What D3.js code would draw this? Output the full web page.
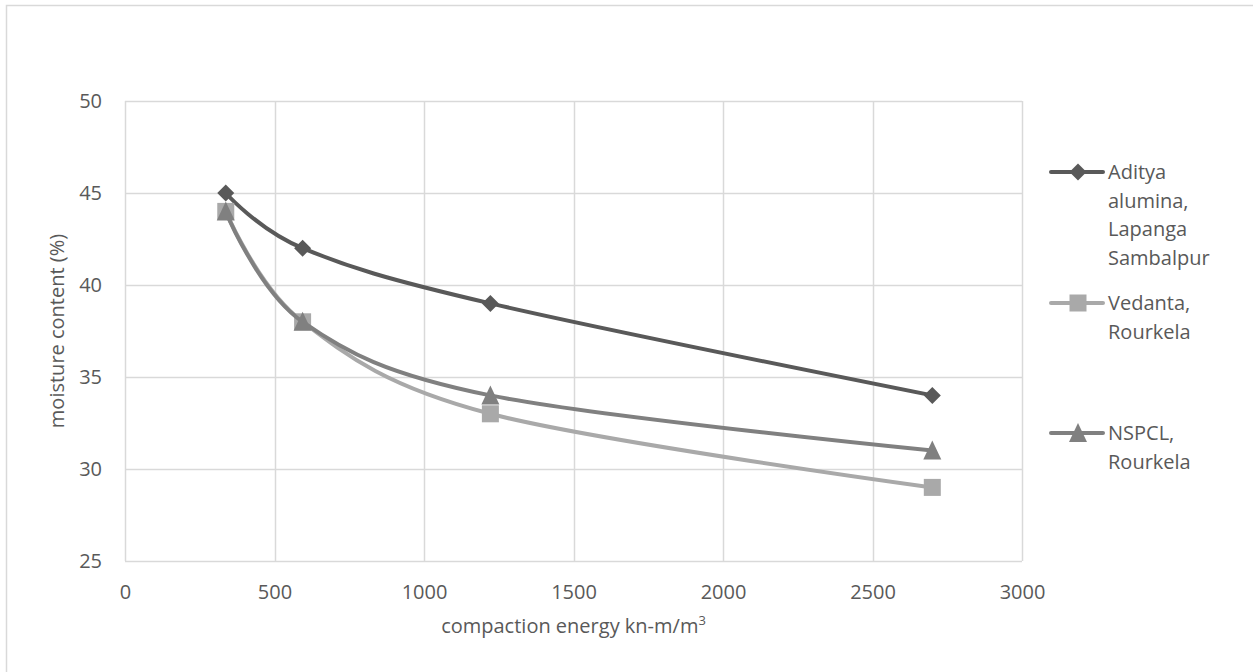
<!DOCTYPE html>
<html>
<head>
<meta charset="utf-8">
<script src="https://cdn.jsdelivr.net/npm/d3@7"></script>
<style>
  html, body { margin: 0; padding: 0; background: #fff; }
  svg { display: block; font-family: "Open Sans", "Liberation Sans", sans-serif; }
</style>
</head>
<body>
<svg id="chart" width="1253" height="672"></svg>
<script>
// Compaction energy (kN-m/m³) at which each sample was tested
const energy = [337, 594, 1222, 2700];

// Moisture content (%) for each ash source
const aditya = [45, 42, 39, 34];
const vedanta = [44, 38, 33, 29];
const nspcl = [44, 38, 34, 31];

const xTicks = [0, 500, 1000, 1500, 2000, 2500, 3000];
const yTicks = [25, 30, 35, 40, 45, 50];

const seriesNames = [
  ["Aditya", "alumina,", "Lapanga", "Sambalpur"],
  ["Vedanta,", "Rourkela"],
  ["NSPCL,", "Rourkela"]
];

const series = [
  { values: aditya, color: "#595959", marker: "diamond", lines: seriesNames[0] },
  { values: vedanta, color: "#a9a9a9", marker: "square", lines: seriesNames[1] },
  { values: nspcl, color: "#808080", marker: "triangle", lines: seriesNames[2] }
];

const textColor = "#595959";
const fontSize = 20;

const svg = d3.select("#chart");
const plot = { left: 125, right: 1022, top: 101, bottom: 561 };

const x = d3.scaleLinear().domain([0, 3000]).range([plot.left, plot.right]);
const y = d3.scaleLinear().domain([25, 50]).range([plot.bottom, plot.top]);

// Chart frame (only top and left edges fall inside the view)
svg.append("rect")
  .attr("x", 6.5).attr("y", 5.5)
  .attr("width", 1400).attr("height", 800)
  .attr("fill", "none").attr("stroke", "#d9d9d9").attr("stroke-width", 1.5);

// Gridlines
const grid = svg.append("g");
grid.selectAll(".hg").data(yTicks).enter().append("line")
  .attr("x1", plot.left).attr("x2", plot.right)
  .attr("y1", d => Math.round(y(d)) + 0.5).attr("y2", d => Math.round(y(d)) + 0.5)
  .attr("stroke", "#d9d9d9").attr("stroke-width", 1.5);
grid.selectAll(".vg").data(xTicks).enter().append("line")
  .attr("y1", plot.top).attr("y2", plot.bottom)
  .attr("x1", d => Math.round(x(d)) + 0.5).attr("x2", d => Math.round(x(d)) + 0.5)
  .attr("stroke", "#d9d9d9").attr("stroke-width", 1.5);

// Axes (labels only; the gridlines carry the structure)
const xAxis = d3.axisBottom(x).tickValues(xTicks).tickFormat(d3.format("d")).tickSize(0).tickPadding(24);
const yAxis = d3.axisLeft(y).tickValues(yTicks).tickFormat(d3.format("d")).tickSize(0).tickPadding(23);

const gx = svg.append("g").attr("transform", `translate(0,${plot.bottom})`).call(xAxis);
const gy = svg.append("g").attr("transform", `translate(${plot.left},0)`).call(yAxis);
[gx, gy].forEach(g => {
  g.select(".domain").remove();
  g.selectAll("text").attr("fill", textColor).attr("font-size", fontSize)
    .attr("font-family", "Open Sans, sans-serif");
});

// Axis titles
const xTitle = svg.append("text")
  .attr("x", (plot.left + plot.right) / 2).attr("y", 633)
  .attr("text-anchor", "middle").attr("fill", textColor).attr("font-size", fontSize);
xTitle.append("tspan").text("compaction energy kn-m/m");
xTitle.append("tspan").text("3").attr("font-size", 13).attr("dy", -8);

svg.append("text")
  .attr("transform", `translate(64,${(plot.top + plot.bottom) / 2}) rotate(-90)`)
  .attr("text-anchor", "middle").attr("fill", textColor).attr("font-size", fontSize)
  .text("moisture content (%)");

// Smoothed lines
const line = d3.line()
  .x((d, i) => x(energy[i]))
  .y(d => y(d))
  .curve(d3.curveCardinal.tension(0));

function drawMarker(g, type, cx, cy, color) {
  if (type === "diamond") {
    const s = 8.5;
    g.append("path")
      .attr("d", `M${cx},${cy - s}L${cx + s},${cy}L${cx},${cy + s}L${cx - s},${cy}Z`)
      .attr("fill", color);
  } else if (type === "square") {
    const s = 8.5;
    g.append("rect").attr("x", cx - s).attr("y", cy - s)
      .attr("width", 2 * s).attr("height", 2 * s).attr("fill", color);
  } else {
    const s = 9;
    g.append("path")
      .attr("d", `M${cx},${cy - s - 1}L${cx + s},${cy + s}L${cx - s},${cy + s}Z`)
      .attr("fill", color);
  }
}

// Draw back-to-front: Aditya, Vedanta, NSPCL (NSPCL on top)
series.forEach(s => {
  const g = svg.append("g");
  g.append("path").datum(s.values)
    .attr("d", line)
    .attr("fill", "none").attr("stroke", s.color)
    .attr("stroke-width", 4).attr("stroke-linecap", "round");
  s.values.forEach((v, i) => drawMarker(g, s.marker, x(energy[i]), y(v), s.color));
});

// Legend
const legendY = [172, 303, 433];
const lineH = 28.5;
series.forEach((s, k) => {
  const g = svg.append("g");
  const ly = legendY[k];
  g.append("line").attr("x1", 1051).attr("x2", 1103).attr("y1", ly).attr("y2", ly)
    .attr("stroke", s.color).attr("stroke-width", 4).attr("stroke-linecap", "round");
  drawMarker(g, s.marker, 1078, ly, s.color);
  const t = g.append("text").attr("fill", textColor).attr("font-size", fontSize);
  s.lines.forEach((ln, i) => {
    t.append("tspan").attr("x", 1108).attr("y", ly + 7 + i * lineH).text(ln);
  });
});
</script>
</body>
</html>
